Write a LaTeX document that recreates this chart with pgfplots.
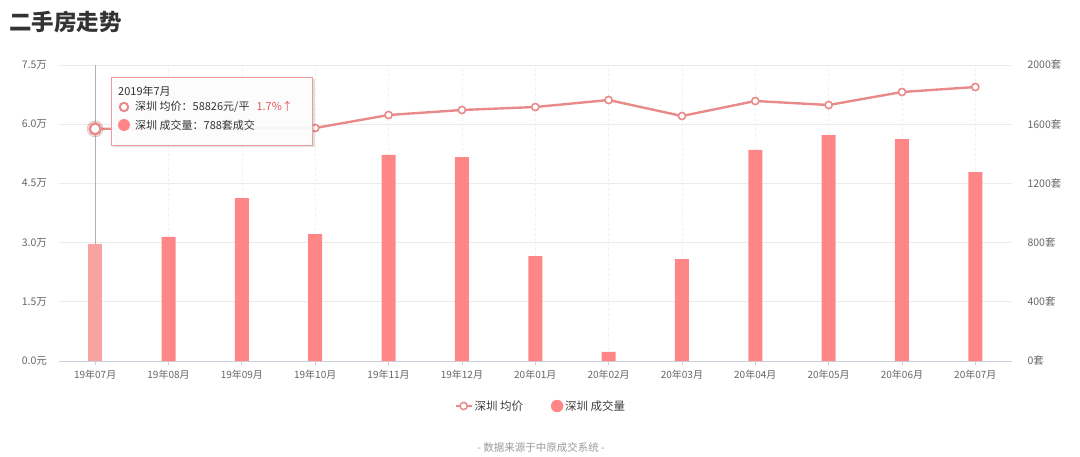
\documentclass[border=0pt]{standalone}
\usepackage{pgfplots}
\pgfplotsset{compat=1.18}
\usepackage{fontspec}
\setmainfont{Noto Sans CJK SC}
\definecolor{barcol}{HTML}{FF8686}
\definecolor{barhi}{HTML}{F9A2A2}
\definecolor{linecol}{HTML}{E98A8A}
\definecolor{gridcol}{HTML}{EBEBEB}
\definecolor{ticktext}{HTML}{666666}
\definecolor{axiscol}{HTML}{CCD0DA}
\definecolor{tipred}{HTML}{E05A5A}
\begin{document}
\begin{tikzpicture}[x=1pt,y=1pt]
\path[use as bounding box] (0,0) rectangle (1080,456);
% title
\node[anchor=west,font=\fontsize{22.5}{26}\selectfont\bfseries,text=black!80,inner sep=0pt] at (9,434) {二手房走势};
% bars axis (right)
\begin{axis}[at={(58.5pt,95pt)}, anchor=south west, scale only axis,
  width=953.5pt, height=296pt,
  xmin=-0.5, xmax=12.5, ymin=0, ymax=2000,
  axis y line*=right, axis x line*=bottom,
  y axis line style={draw=none},
  x axis line style={draw=axiscol, line width=0.8pt, -},
  xtick={0,...,12},
  xticklabels={19年07月,19年08月,19年09月,19年10月,19年11月,19年12月,20年01月,20年02月,20年03月,20年04月,20年05月,20年06月,20年07月},
  ytick={0,400,800,1200,1600,2000},
  yticklabels={0套,400套,800套,1200套,1600套,2000套},
  scaled y ticks=false,
  ytick style={draw=none},
  xtick style={draw=axiscol, line width=0.8pt},
  tick align=outside, major tick length=4pt,
  ymajorgrids, xmajorgrids,
  y grid style={gridcol, line width=0.8pt},
  x grid style={gridcol!70, line width=0.6pt, dash pattern=on 3pt off 2pt},
  xticklabel style={font=\fontsize{10}{12}\selectfont, text=ticktext, yshift=-2pt},
  yticklabel style={font=\fontsize{10.5}{12}\selectfont, text=ticktext, anchor=west, xshift=8pt},
  clip=false,
]
\draw[gray!60, line width=0.8pt] (axis cs:0,0) -- (axis cs:0,2000);
\addplot[ybar, bar width=14pt, bar shift=0pt, fill=barhi, draw=none] coordinates {(0,788)};
\addplot[ybar, bar width=14pt, bar shift=0pt, fill=barcol, draw=none] coordinates {
(1,838) (2,1101) (3,858) (4,1392) (5,1378) (6,709) (7,61) (8,689) (9,1426) (10,1527) (11,1500) (12,1277)};
\end{axis}
% price axis (left)
\begin{axis}[at={(58.5pt,95pt)}, anchor=south west, scale only axis,
  width=953.5pt, height=296pt,
  xmin=-0.5, xmax=12.5, ymin=0, ymax=75000,
  axis y line*=left, hide x axis,
  y axis line style={draw=none},
  ytick={0,15000,30000,45000,60000,75000},
  yticklabels={0.0元,1.5万,3.0万,4.5万,6.0万,7.5万},
  scaled y ticks=false,
  ytick style={draw=none},
  yticklabel style={font=\fontsize{10.5}{12}\selectfont, text=ticktext, anchor=east, xshift=-8pt},
  clip=false,
  legend style={at={(0.506,-0.152)}, anchor=center, draw=none, fill=none,
    font=\fontsize{11.5}{13}\selectfont, text=black!75,
    /tikz/every even column/.append style={column sep=26pt}},
  legend columns=2,
  legend image code/.code={\draw[mark repeat=2,mark phase=2,#1] plot coordinates {(0pt,0pt) (8pt,0pt) (16pt,0pt)};},
]
\addplot[linecol, line width=2.4pt, mark=*, mark size=3.6pt,
  mark options={fill=white, draw=linecol, line width=1.6pt}, forget plot] coordinates {
(0,58826) (1,58900) (2,59000) (3,59037) (4,62331) (5,63598) (6,64358) (7,66131) (8,62078) (9,65878) (10,64865) (11,68159) (12,69426)};
\addplot[only marks, mark=*, mark size=8pt, mark options={fill=linecol, draw=none, opacity=0.25}, forget plot] coordinates {(0,58826)};
\addplot[only marks, mark=*, mark size=5.5pt, mark options={fill=white, draw=linecol, line width=2.4pt}, forget plot] coordinates {(0,58826)};
\addlegendimage{linecol, line width=1.8pt, mark=*, mark size=3.6pt, mark options={fill=white, draw=linecol, line width=1.5pt}}
\addlegendentry{深圳 均价}
\addlegendimage{barcol, only marks, mark=*, mark size=6pt, mark options={fill=barcol, draw=barcol}}
\addlegendentry{深圳 成交量}
\end{axis}
% tooltip
\fill[black, opacity=0.12] (113,309) rectangle (315,377);
\draw[linecol!85, line width=0.8pt, fill=white, fill opacity=0.92] (111,311) rectangle (312,379);
\node[anchor=west, inner sep=0pt, font=\fontsize{11}{13}\selectfont, text=black!80] at (118,365) {2019年7月};
\draw[linecol, line width=2pt, fill=white] (124,349) circle (4.2pt);
\node[anchor=west, inner sep=0pt, font=\fontsize{11}{13}\selectfont, text=black!80] at (135,349) {深圳 均价：58826元/平\hspace{7pt}\textcolor{tipred}{1.7\%↑}};
\fill[barcol] (124,331) circle (6pt);
\node[anchor=west, inner sep=0pt, font=\fontsize{11}{13}\selectfont, text=black!80] at (135,331) {深圳 成交量：788套成交};
% source
\node[font=\fontsize{10.5}{12}\selectfont, text=black!40] at (541,9) {- 数据来源于中原成交系统 -};
\end{tikzpicture}
\end{document}
